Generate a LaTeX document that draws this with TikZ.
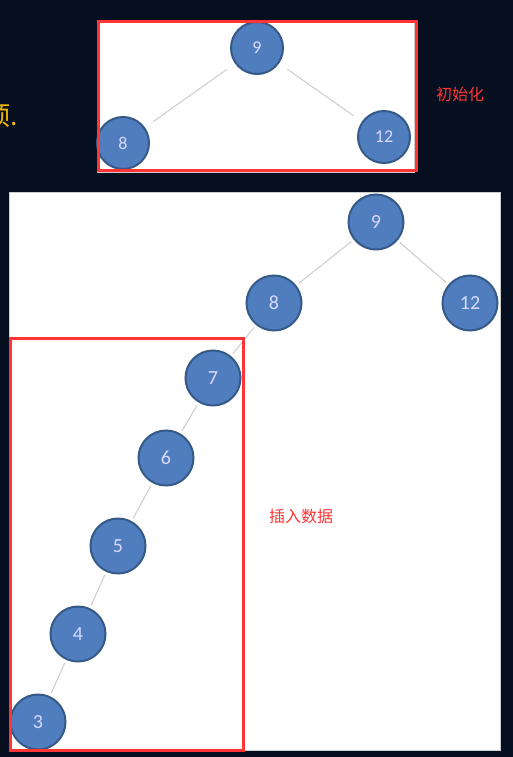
\documentclass[tikz,border=0pt]{standalone}
\usepackage{fontspec}
\newfontfamily\cjk{Noto Sans CJK SC}
\newfontfamily\digits{Carlito}
\usetikzlibrary{positioning}
\definecolor{bgnavy}{HTML}{050F1F}
\definecolor{nodeblue}{HTML}{4F7DBD}
\definecolor{nodeline}{HTML}{365A88}
\definecolor{marker}{HTML}{FF3535}
\definecolor{hint}{HTML}{F0B400}
\tikzstyle{panel} = [fill=white, draw=gray!40, line width=0.8pt]
\tikzstyle{frame} = [draw=marker, line width=3pt]
\tikzstyle{small} = [circle, minimum size=52pt, inner sep=0pt, fill=nodeblue, draw=nodeline, line width=2pt, text=white!85!blue, font=\digits\fontsize{18}{18}\selectfont]
\tikzstyle{big} = [small, minimum size=55pt, font=\digits\fontsize{20}{20}\selectfont]
\tikzstyle{edge} = [draw=gray!40, line width=1pt]
\tikzstyle{note} = [text=marker, font=\cjk\fontsize{16}{16}\selectfont]

\begin{document}
\begin{tikzpicture}[x=1pt, y=-1pt]
\useasboundingbox [fill=bgnavy] (0,0) rectangle (513,757);
\node [anchor=east, text=hint, font=\cjk\fontsize{26}{26}\selectfont, inner sep=0pt] (tail) at (18,116) {顶.};
% Initial tree
\draw [panel] (97,20) rectangle (414,172);
\node (t9) [small] at (257,48) {9};
\node (t8) [small] at (123,143) {8};
\node (t12) [small] at (384,137) {12};
\draw [edge, shorten <=10pt, shorten >=10pt] (t9) -- (t8);
\draw [edge, shorten <=10pt, shorten >=10pt] (t9) -- (t12);
\draw [frame] (98.5,21.5) rectangle (416.5,170.5);
\node (init) [note] at (460,94) {初始化};
% After inserting
\draw [panel] (9,192) rectangle (500,750);
\node (b9) [big] at (376,222) {9};
\node (b8) [big] at (274,303) {8};
\node (b12) [big] at (470,303) {12};
\node (b7) [big] at (213,378) {7};
\node (b6) [big] at (166,458) {6};
\node (b5) [big] at (118,546) {5};
\node (b4) [big] at (78,634) {4};
\node (b3) [big] at (38,722) {3};
\draw [edge, shorten <=3pt, shorten >=3pt] (b9) -- (b8);
\draw [edge, shorten <=3pt, shorten >=3pt] (b9) -- (b12);
\draw [edge, shorten <=3pt, shorten >=3pt] (b8) -- (b7);
\draw [edge, shorten <=3pt, shorten >=3pt] (b7) -- (b6);
\draw [edge, shorten <=3pt, shorten >=3pt] (b6) -- (b5);
\draw [edge, shorten <=3pt, shorten >=3pt] (b5) -- (b4);
\draw [edge, shorten <=3pt, shorten >=3pt] (b4) -- (b3);
\draw [frame] (10.5,338.5) rectangle (243.5,750.5);
\node (insert) [note] at (301,516) {插入数据};
\end{tikzpicture}
\end{document}
